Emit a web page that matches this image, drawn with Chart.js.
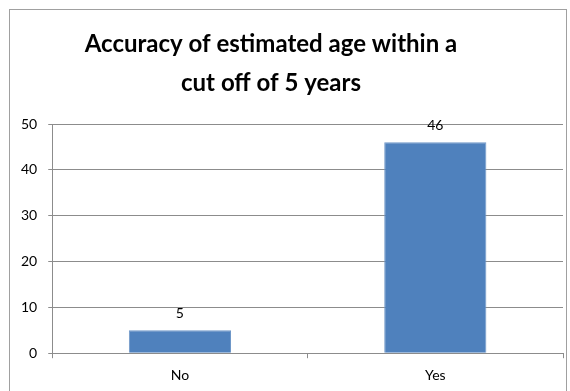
<!DOCTYPE html>
<html>
<head>
<meta charset="utf-8">
<script src="https://cdn.jsdelivr.net/npm/chart.js@4"></script>
<style>
  html, body { margin: 0; padding: 0; background: #fff; overflow: hidden; }
  #wrap { position: relative; width: 570px; height: 391px; }
  #frame { position: absolute; left: 9px; top: 9px; width: 558px; height: 400px; border: 1px solid #a0a0a0; box-sizing: border-box; }
  canvas { position: absolute; left: 0; top: 0; }
</style>
</head>
<body>
<div id="wrap">
  <div id="frame"></div>
  <canvas id="chart" width="570" height="391"></canvas>
</div>
<script>
const categories = ['No', 'Yes'];
const counts = [5, 46];
const titleLines = ['Accuracy of estimated age within a', 'cut off of 5 years'];

const gridColor = '#8c8c8c';
const fontName = 'Lato, "Open Sans", sans-serif';

// title is drawn by hand, it sits a bit left of the canvas centre
const chartTitle = {
  id: 'chartTitle',
  afterDraw(chart) {
    const ctx = chart.ctx;
    ctx.save();
    ctx.font = 'bold 24px ' + fontName;
    ctx.fillStyle = '#000';
    ctx.textAlign = 'center';
    ctx.textBaseline = 'alphabetic';
    titleLines.forEach((line, i) => {
      ctx.fillText(line, 271, 52 + i * 39);
    });
    ctx.restore();
  }
};

// draws the value above each bar
const valueLabels = {
  id: 'valueLabels',
  afterDatasetsDraw(chart) {
    const ctx = chart.ctx;
    const meta = chart.getDatasetMeta(0);
    ctx.save();
    ctx.font = '14px ' + fontName;
    ctx.fillStyle = '#000';
    ctx.textAlign = 'center';
    ctx.textBaseline = 'bottom';
    meta.data.forEach((bar, i) => {
      ctx.fillText(counts[i], bar.x, bar.y - 10);
    });
    ctx.restore();
  }
};

new Chart(document.getElementById('chart'), {
  type: 'bar',
  data: {
    labels: categories,
    datasets: [{
      data: counts,
      backgroundColor: '#4f81bd',
      borderColor: '#6f97c8',
      borderWidth: 1,
      barPercentage: 0.4,
      categoryPercentage: 1.0
    }]
  },
  options: {
    responsive: false,
    animation: false,
    layout: { padding: { left: 10, right: 7, top: 124, bottom: -2 } },
    plugins: {
      legend: { display: false },
      tooltip: { enabled: false },
      title: { display: false }
    },
    scales: {
      x: {
        grid: { drawOnChartArea: false, drawTicks: true, tickLength: 5, color: gridColor },
        border: { color: gridColor, width: 1 },
        ticks: { color: '#000', font: { family: fontName, size: 14 }, padding: 9 }
      },
      y: {
        min: 0,
        max: 50,
        ticks: { stepSize: 10, color: '#000', font: { family: fontName, size: 14 }, padding: 11 },
        grid: { color: gridColor, tickLength: 4 },
        border: { color: gridColor, width: 1 }
      }
    }
  },
  plugins: [valueLabels, chartTitle]
});
</script>
</body>
</html>
